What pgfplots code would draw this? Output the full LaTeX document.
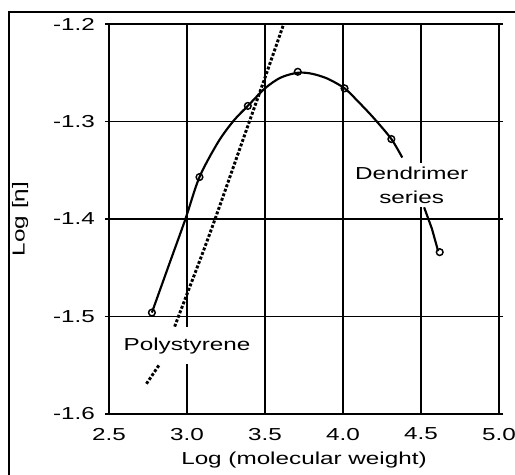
\documentclass[border=0pt]{standalone}
\usepackage{pgfplots}
\pgfplotsset{compat=1.18}
\usepackage{fontspec}
\setmainfont{Liberation Sans}[FakeStretch=1.4]
\begin{document}
\begin{tikzpicture}
% picture is 515 x 475 px, 1 px = 0.75pt
\path[use as bounding box] (0pt,0pt) rectangle (386.25pt,356.25pt);
\draw[line width=1.5pt] (6.75pt,-5pt) -- (6.75pt,347.25pt) -- (395pt,347.25pt);
\begin{axis}[
  at={(81.75pt,45.75pt)}, anchor=south west,
  scale only axis,
  width=292.5pt, height=292.5pt,
  xmin=2.5, xmax=5.0, ymin=-1.6, ymax=-1.2,
  xtick={2.5,3.0,3.5,4.0,4.5,5.0},
  ytick={-1.6,-1.5,-1.4,-1.3,-1.2},
  grid=major,
  grid style={black, line width=1.1pt},
  axis line style={black, line width=1.1pt},
  xtick style={draw=none},
  ytick style={black, line width=1.1pt},
  tick align=outside,
  major tick length=3pt,
  font=\fontsize{13}{15}\selectfont,
  /pgf/number format/assume math mode=true,
  xticklabel style={yshift=-4pt, /pgf/number format/.cd, fixed, fixed zerofill, precision=1},
  yticklabel style={xshift=-4pt, /pgf/number format/.cd, fixed, fixed zerofill, precision=1},
  xlabel={Log (molecular weight)},
  ylabel={Log [η]},
  xlabel style={at={(axis description cs:0.5,0)}, anchor=center, yshift=-34.5pt},
  ylabel style={at={(axis description cs:-0.228,0.5)}, anchor=center},
  clip=true,
]
% Dendrimer series, fitted curve (first part)
\addplot[black, line width=1.6pt, smooth, tension=0.5] coordinates {
  (2.775,-1.496) (2.88,-1.449) (2.99,-1.400) (3.08,-1.357) (3.20,-1.321)
  (3.30,-1.299) (3.39,-1.284) (3.50,-1.266) (3.60,-1.255) (3.71,-1.250)
  (3.80,-1.251) (3.90,-1.256) (4.01,-1.266) (4.10,-1.280) (4.20,-1.297)
  (4.31,-1.318) (4.38,-1.337)
};
% Dendrimer series, last part below the label
\addplot[black, line width=1.6pt] coordinates {
  (4.52,-1.388) (4.57,-1.410) (4.61,-1.433)
};
% Dendrimer data points
\addplot[black, only marks, mark=o, mark size=2.5pt, mark options={line width=1.1pt, fill=white}] coordinates {
  (2.775,-1.496) (3.08,-1.357) (3.39,-1.284) (3.71,-1.249)
  (4.01,-1.266) (4.31,-1.318) (4.62,-1.434)
};
% Polystyrene
\addplot[black, line width=2.2pt, dash pattern=on 2.2pt off 1.4pt, smooth] coordinates {
  (2.91,-1.515) (2.95,-1.498) (3.00,-1.477) (3.10,-1.435) (3.18,-1.400)
  (3.29,-1.350) (3.40,-1.300) (3.50,-1.255) (3.62,-1.200)
};
\addplot[black, line width=2.2pt, dash pattern=on 2.2pt off 1.4pt] coordinates {
  (2.74,-1.569) (2.82,-1.550)
};
\node[fill=white, inner xsep=1pt, inner ysep=3pt, align=center,
      font=\fontsize{13}{18}\selectfont] at (axis cs:4.44,-1.365) {Dendrimer\\series};
\node[fill=white, inner xsep=1pt, inner ysep=8pt] at (axis cs:3.0,-1.53) {Polystyrene};
\end{axis}
\end{tikzpicture}
\end{document}
